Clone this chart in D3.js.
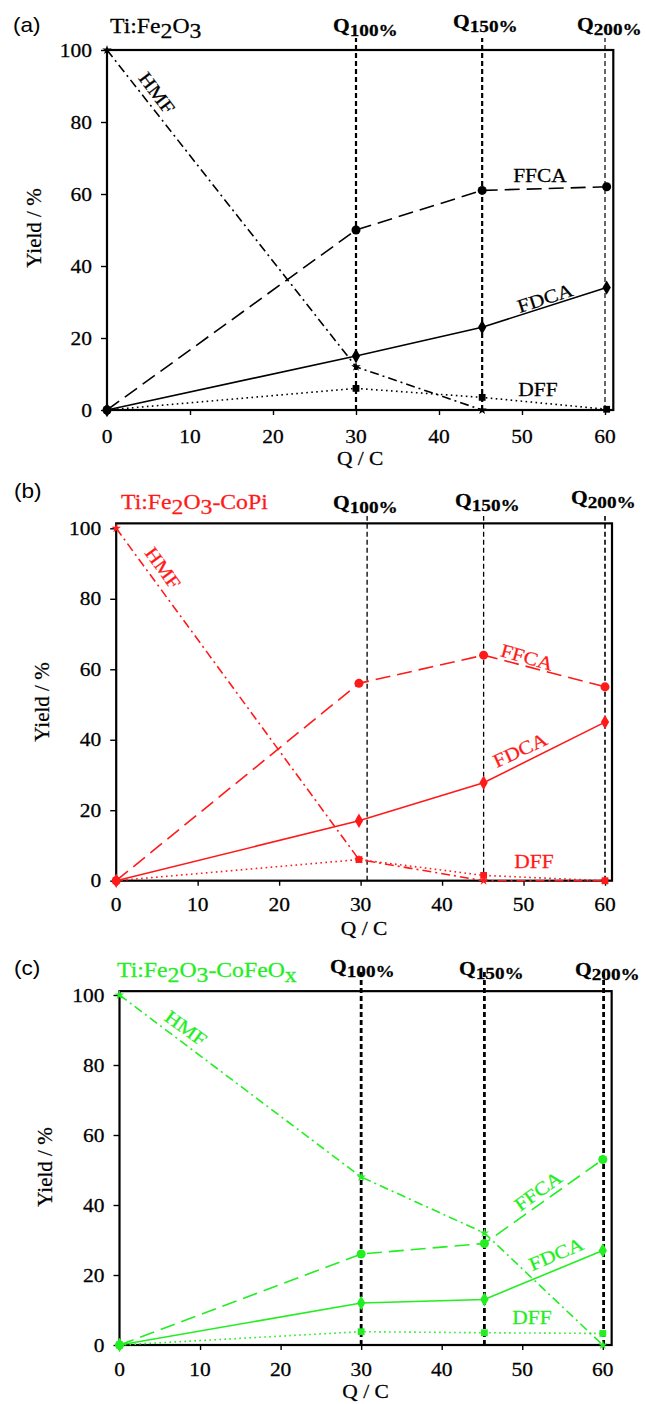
<!DOCTYPE html>
<html><head><meta charset="utf-8">
<script src="https://cdn.jsdelivr.net/npm/d3@7"></script>
<style>body{margin:0;background:#fff}svg{display:block}
.serif{font-family:"Liberation Serif","Times New Roman",Times,serif}
.sans{font-family:"Liberation Sans",Arial,Helvetica,sans-serif}
</style>
</head><body>
<svg id="chart" width="646" height="1404"></svg>
<script>
// ---------- DATA ----------
const xTicks = [0, 10, 20, 30, 40, 50, 60];
const yTicks = [0, 20, 40, 60, 80, 100];
const seriesNames = ["HMF", "FFCA", "FDCA", "DFF"];
const qTags = ["100%", "150%", "200%"];

// (a) Ti:Fe2O3
const qA    = [0, 30, 45.2, 60.2];
const hmfA  = [100, 12, 0, null];
const ffcaA = [0, 50, 61, 62];
const fdcaA = [0, 15, 23, 34];
const dffA  = [0, 6, 3.5, 0.2];
const qLinesA = [30, 45.2, 60];

// (b) Ti:Fe2O3-CoPi
const qB    = [0, 29.8, 45.1, 60];
const hmfB  = [100, 6, 0, 0];
const ffcaB = [0, 56, 64, 55];
const fdcaB = [0, 17, 27.8, 45];
const dffB  = [0, 6, 1.5, 0];
const qLinesB = [30.8, 45.1, 60];

// (c) Ti:Fe2O3-CoFeOx
const qC    = [0, 30, 45.3, 60];
const hmfC  = [100, 48, 32, 0];
const ffcaC = [0, 26, 29, 53];
const fdcaC = [0, 12, 13, 27];
const dffC  = [0, 3.8, 3.5, 3.3];
const qLinesC = [30, 45.3, 60.1];

// ---------- LAYOUT / STYLE ----------
const SX = 1.13;

const panels = [
  { tag: "(a)", color: "#000", q: qA, vals: [hmfA, ffcaA, fdcaA, dffA], qLines: qLinesA,
    title: [["Ti:Fe", 0], ["2", 1], ["O", 0], ["3", 1]],
    left: 107, x60: 605, xMax: 61, y0: 410, y100: 50, yMax: 100,
    tagPos: [13, 32], titlePos: [110, 33],
    qLab: [[333, 32], [453, 28], [577, 31]], qTop: 38, qW: [2.2, 2.2, 1.2],
    yLab: [41, 228], tickBase: 443, xLabBase: 465,
    labels: [[157, 93, 53], [540, 175, 0], [545, 298, -18], [538, 389, 0]] },
  { tag: "(b)", color: "#ff1a1a", q: qB, vals: [hmfB, ffcaB, fdcaB, dffB], qLines: qLinesB,
    title: [["Ti:Fe", 0], ["2", 1], ["O", 0], ["3", 1], ["-CoPi", 0]],
    left: 116.2, x60: 605, xMax: 60.86, y0: 880.7, y100: 528.3, yMax: 101.4,
    tagPos: [14, 498], titlePos: [121, 509],
    qLab: [[333, 509], [455, 507], [571, 504]], qTop: 516, qW: [1.3, 1.3, 1.6],
    yLab: [49, 702], tickBase: 911, xLabBase: 935,
    labels: [[163, 568, 54], [527, 657, 16], [520, 750, -25], [534, 861, 0]] },
  { tag: "(c)", color: "#22ee22", q: qC, vals: [hmfC, ffcaC, fdcaC, dffC], qLines: qLinesC,
    title: [["Ti:Fe", 0], ["2", 1], ["O", 0], ["3", 1], ["-CoFeO", 0], ["x", 1]],
    left: 119.5, x60: 602.8, xMax: 61.1, y0: 1345, y100: 995, yMax: 101.1,
    tagPos: [14, 975], titlePos: [117, 977],
    qLab: [[330, 973], [459, 975], [575, 976]], qTop: 972, qW: [2.8, 2.8, 2.8],
    yLab: [52, 1167], tickBase: 1376, xLabBase: 1398,
    labels: [[186, 1028, 36], [538, 1191, -36], [556, 1254, -23], [532, 1317, 0]] }
];

const seriesStyle = [
  { dash: "9,4,2,4", sym: d3.symbolStar, size: 28 },
  { dash: "15,7", sym: d3.symbolCircle, size: 64 },
  { dash: null, sym: d3.symbolDiamond, size: 60 },
  { dash: "1.6,3.4", sym: d3.symbolSquare, size: 46 }
];

const svg = d3.select("#chart");

function stext(g, x, y, opts) {
  const fill = opts.fill || "#000";
  return g.append("text")
    .attr("class", opts.sans ? "sans" : "serif")
    .attr("transform", `translate(${x},${y}) rotate(${opts.rot || 0}) scale(${opts.sx == null ? SX : opts.sx},1)`)
    .attr("text-anchor", opts.anchor || "start")
    .style("font-size", opts.size + "px")
    .style("font-weight", opts.weight || "normal")
    .attr("fill", fill)
    .attr("stroke", fill).attr("stroke-width", 0.25);
}

panels.forEach(p => {
  const g = svg.append("g");
  const x = d3.scaleLinear().domain([0, 60]).range([p.left, p.x60]);
  const y = d3.scaleLinear().domain([0, 100]).range([p.y0, p.y100]);
  const xr = x(p.xMax), yt = y(p.yMax);

  // Q dashed vertical lines
  p.qLines.forEach((qv, i) => {
    g.append("line").attr("x1", x(qv)).attr("x2", x(qv))
      .attr("y1", p.y0).attr("y2", p.qTop)
      .attr("stroke", "#000").attr("stroke-width", p.qW[i])
      .attr("stroke-dasharray", "5,3");
  });

  // frame
  g.append("rect").attr("x", p.left).attr("y", yt)
    .attr("width", xr - p.left).attr("height", p.y0 - yt)
    .attr("fill", "none").attr("stroke", "#000").attr("stroke-width", 2.2);

  // axes (ticks)
  const ax = g.append("g").attr("transform", `translate(0,${p.y0})`)
    .call(d3.axisBottom(x).tickValues(xTicks).tickSize(5).tickFormat(""));
  const ay = g.append("g").attr("transform", `translate(${p.left},0)`)
    .call(d3.axisLeft(y).tickValues(yTicks).tickSize(6).tickFormat(""));
  [ax, ay].forEach(a => {
    a.select(".domain").remove();
    a.selectAll(".tick line").attr("stroke", "#000").attr("stroke-width", 1.4);
  });

  // tick labels
  xTicks.forEach(v => {
    stext(g, x(v), p.tickBase, { size: 19, anchor: "middle" }).text(v);
  });
  yTicks.forEach(v => {
    stext(g, p.left - 15, y(v) + 6.5, { size: 19, anchor: "end" }).text(v);
  });

  // axis titles
  stext(g, (p.left + xr) / 2, p.xLabBase, { size: 19, anchor: "middle" }).text("Q / C");
  stext(g, p.yLab[0], p.yLab[1], { size: 21, anchor: "middle", rot: -90, sx: 1 }).text("Yield / %");

  // panel tag & title
  stext(g, p.tagPos[0], p.tagPos[1], { size: 20, sans: true }).attr("stroke-width", 0).text(p.tag);
  const tt = stext(g, p.titlePos[0], p.titlePos[1], { size: 21, fill: p.color });
  let down = false;
  p.title.forEach(([s, sub]) => {
    const ts = tt.append("tspan").text(s);
    if (sub && !down) { ts.attr("dy", 5); down = true; }
    else if (!sub && down) { ts.attr("dy", -5); down = false; }
  });

  // Q labels
  p.qLab.forEach(([lx, ly], i) => {
    const t = stext(g, lx, ly, { size: 19, weight: "bold" });
    t.append("tspan").text("Q");
    t.append("tspan").attr("dy", 4).style("font-size", "17px").text(qTags[i]);
  });

  // series
  seriesNames.forEach((name, si) => {
    const st = seriesStyle[si];
    const pts = p.q.map((qv, k) => ({ q: qv, v: p.vals[si][k] })).filter(d => d.v != null);
    const line = d3.line().x(d => x(d.q)).y(d => y(d.v));
    g.append("path").attr("d", line(pts))
      .attr("fill", "none").attr("stroke", p.color).attr("stroke-width", 1.6)
      .attr("stroke-dasharray", st.dash);
    g.selectAll(null).data(pts).enter().append("path")
      .attr("transform", d => `translate(${x(d.q)},${y(d.v)})`)
      .attr("d", d3.symbol().type(st.sym).size(st.size))
      .attr("fill", p.color);
    const [lx, ly, rot] = p.labels[si];
    stext(g, lx, ly, { size: 19, anchor: "middle", rot: rot, fill: p.color })
      .attr("dominant-baseline", "central").text(name);
  });
});
</script>
</body></html>
